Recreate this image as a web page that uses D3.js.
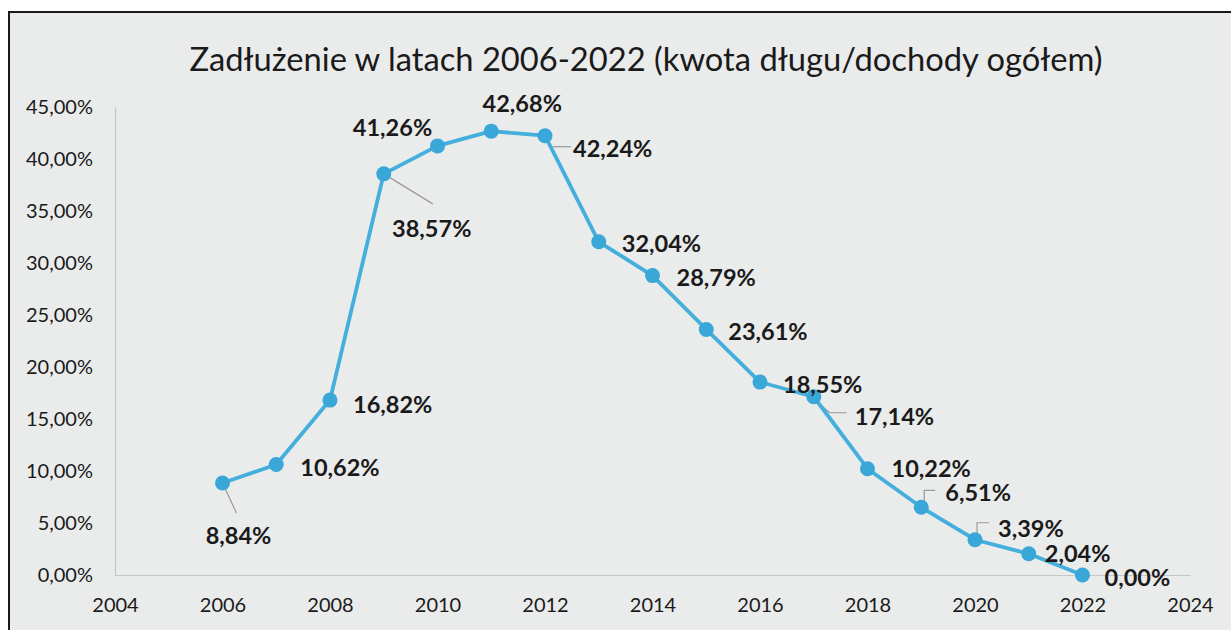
<!DOCTYPE html>
<html lang="pl">
<head>
<meta charset="utf-8">
<title>Zadłużenie w latach 2006-2022</title>
<script src="https://cdn.jsdelivr.net/npm/d3@7"></script>
<style>
  html, body { margin: 0; padding: 0; background: #ffffff; }
  svg { display: block; font-family: Lato, "Open Sans", sans-serif; }
</style>
</head>
<body>
<svg id="chart" width="1231" height="630"></svg>
<script>
// Debt ratio (debt amount / total revenue), per cent
const years  = [2006, 2007, 2008, 2009, 2010, 2011, 2012, 2013, 2014, 2015, 2016, 2017, 2018, 2019, 2020, 2021, 2022];
const ratios = [8.84, 10.62, 16.82, 38.57, 41.26, 42.68, 42.24, 32.04, 28.79, 23.61, 18.55, 17.14, 10.22, 6.51, 3.39, 2.04, 0.00];
const xTicks = [2004, 2006, 2008, 2010, 2012, 2014, 2016, 2018, 2020, 2022, 2024];
const yTicks = [0, 5, 10, 15, 20, 25, 30, 35, 40, 45];
const titleText = "Zadłużenie w latach 2006-2022 (kwota długu/dochody ogółem)";

// Label placement per point: [dx, dy, anchor, leader path points relative to the point]
const labelPlace = [
  [16, 52, "middle", [[0, 0], [14, 30]]],
  [24, 2, "start", null],
  [23, 4, "start", null],
  [48, 54, "middle", [[0, 0], [49, 30]]],
  [-45, -19, "middle", null],
  [31, -28, "middle", null],
  [28, 12, "start", [[8, 11], [26, 11]]],
  [23, 1, "start", null],
  [24, 1, "start", null],
  [22, 2, "start", null],
  [23, 2, "start", null],
  [41, 19, "start", [[3, 5], [16, 16], [33, 16]]],
  [24, -1, "start", null],
  [24, -15, "start", [[3, 0], [3, -17], [14, -17]]],
  [23, -12, "start", [[2, 0], [2, -17], [14, -17]]],
  [16, -1, "start", null],
  [22, 2, "start", null]
];

const fmt = v => v.toFixed(2).replace(".", ",") + "%";

const svg = d3.select("#chart");

// paper frame
svg.append("rect").attr("x", 9).attr("y", 12).attr("width", 1240).attr("height", 640)
  .attr("fill", "#eaebeb").attr("stroke", "#1a1a1a").attr("stroke-width", 2);

const x = d3.scaleLinear().domain([2004, 2024]).range([115, 1190]);
const y = d3.scaleLinear().domain([0, 45]).range([575, 107]);

// title
svg.append("text")
  .attr("x", 646).attr("y", 58)
  .attr("text-anchor", "middle").attr("dominant-baseline", "central")
  .attr("font-size", 32.7).attr("fill", "#1a1a1a")
  .text(titleText);

// axes
const gx = svg.append("g").attr("transform", `translate(0,${y(0)})`)
  .call(d3.axisBottom(x).tickValues(xTicks).tickFormat(d3.format("d")).tickSize(0).tickPadding(23));
gx.select(".domain").attr("stroke", "#c4c6c7").attr("stroke-width", 1.2);
gx.selectAll("text").attr("font-size", 20).attr("fill", "#1a1a1a").attr("font-family", "Lato, sans-serif");

const gy = svg.append("g").attr("transform", `translate(${x(2004)},0)`)
  .call(d3.axisLeft(y).tickValues(yTicks).tickFormat(d => d.toFixed(2).replace(".", ",") + "%").tickSize(0).tickPadding(22));
gy.select(".domain").attr("stroke", "#c4c6c7").attr("stroke-width", 1.2);
gy.selectAll("text").attr("font-size", 20).attr("fill", "#1a1a1a").attr("font-family", "Lato, sans-serif");

const data = years.map((yr, i) => ({ yr, v: ratios[i], p: labelPlace[i] }));

// leader lines
svg.append("g").selectAll("path").data(data.filter(d => d.p[3])).join("path")
  .attr("d", d => d3.line()(d.p[3].map(([a, b]) => [x(d.yr) + a, y(d.v) + b])))
  .attr("fill", "none").attr("stroke", "#9a9a9a").attr("stroke-width", 1.2);

// series line
svg.append("path").datum(data)
  .attr("d", d3.line().x(d => x(d.yr)).y(d => y(d.v)))
  .attr("fill", "none").attr("stroke", "#44afdc").attr("stroke-width", 3.8)
  .attr("stroke-linejoin", "round");

// markers
svg.append("g").selectAll("circle").data(data).join("circle")
  .attr("cx", d => x(d.yr)).attr("cy", d => y(d.v)).attr("r", 7.5)
  .attr("fill", "#3aa7d9");

// value labels
svg.append("g").selectAll("text").data(data).join("text")
  .attr("x", d => x(d.yr) + d.p[0]).attr("y", d => y(d.v) + d.p[1])
  .attr("text-anchor", d => d.p[2]).attr("dominant-baseline", "central")
  .attr("font-size", 23.5).attr("font-weight", "bold").attr("fill", "#1a1a1a")
  .text(d => fmt(d.v));
</script>
</body>
</html>
